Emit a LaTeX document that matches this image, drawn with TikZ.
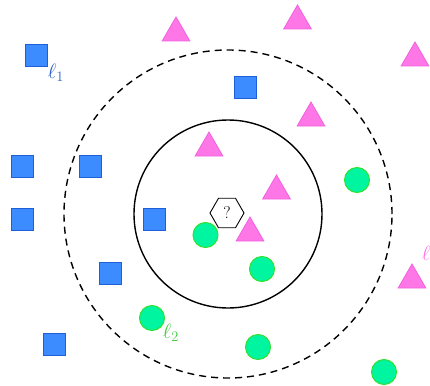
\documentclass[tikz,border=0pt]{standalone}
\usetikzlibrary{shapes.geometric}
\definecolor{sqfill}{HTML}{3C8CFF}
\definecolor{sqdraw}{HTML}{1F5FD8}
\definecolor{trfill}{HTML}{FF77E6}
\definecolor{trdraw}{HTML}{F060E0}
\definecolor{cifill}{HTML}{00F5A0}
\definecolor{cidraw}{HTML}{30E030}
\definecolor{lblue}{HTML}{2A5FCC}
\definecolor{lgreen}{HTML}{3CCB3C}
\begin{document}
\begin{tikzpicture}[x=1pt,y=-1pt,
  sq/.style={rectangle,draw=sqdraw,fill=sqfill,line width=1pt,minimum size=22pt,inner sep=0pt},
  tri/.style={regular polygon,regular polygon sides=3,draw=trdraw,fill=trfill,line width=0.8pt,minimum size=32pt,inner sep=0pt},
  dot/.style={circle,draw=cidraw,fill=cifill,line width=1pt,minimum size=25pt,inner sep=0pt},
  lbl/.style={font=\fontsize{20}{24}\selectfont,inner sep=0pt}]
\useasboundingbox (0,0) rectangle (430,385);
% circles
\node[circle,draw,dashed,dash pattern=on 7pt off 5pt,line width=1.4pt,minimum size=328pt,inner sep=0pt] (outer) at (228,214) {};
\node[circle,draw,line width=1.4pt,minimum size=188pt,inner sep=0pt] (inner) at (228,214) {};
% squares
\node[sq] (s1) at (36.5,55.5) {};
\node[sq] (s2) at (245,87.5) {};
\node[sq] (s3) at (22,166.5) {};
\node[sq] (s4) at (90.5,166.5) {};
\node[sq] (s5) at (22,219.5) {};
\node[sq] (s6) at (154.5,219.5) {};
\node[sq] (s7) at (110.5,273) {};
\node[sq] (s8) at (54,344.5) {};
% triangles
\node[tri] (t1) at (176,33) {};
\node[tri] (t2) at (297.5,21) {};
\node[tri] (t3) at (415,58) {};
\node[tri] (t4) at (311,118) {};
\node[tri] (t5) at (209,148) {};
\node[tri] (t6) at (276.5,191) {};
\node[tri] (t7) at (250,233) {};
\node[tri] (t8) at (412,280) {};
% circles
\node[dot] (c1) at (357,180) {};
\node[dot] (c2) at (205.5,235) {};
\node[dot] (c3) at (262,269) {};
\node[dot] (c4) at (152,318) {};
\node[dot] (c5) at (258,347) {};
\node[dot] (c6) at (384,372) {};
% query
\node[regular polygon,regular polygon sides=6,draw,fill=white,line width=0.9pt,minimum size=34pt,inner sep=0pt,font=\fontsize{17}{20}\selectfont] (q) at (227,213) {?};
% labels
\node[lbl,text=lblue] (l1) at (56,73) {$\ell_1$};
\node[lbl,text=lgreen] (l2) at (171,333) {$\ell_2$};
\node[lbl,text=trfill] (l3) at (430,255) {$\ell_3$};
\end{tikzpicture}
\end{document}
